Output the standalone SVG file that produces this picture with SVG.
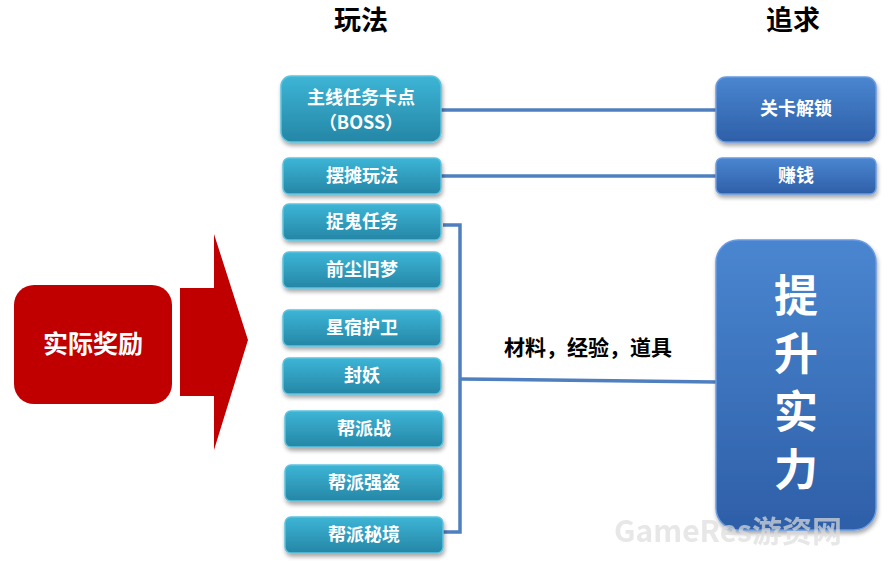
<svg xmlns="http://www.w3.org/2000/svg" width="894" height="563" viewBox="0 0 894 563">
<defs>
<linearGradient id="teal" x1="0" y1="0" x2="0" y2="1"><stop offset="0" stop-color="#3db5d6"/><stop offset="1" stop-color="#2586a6"/></linearGradient>
<linearGradient id="blue" x1="0" y1="0" x2="0" y2="1"><stop offset="0" stop-color="#4a86d0"/><stop offset="1" stop-color="#2e5fa8"/></linearGradient>
<filter id="sh" x="-10%" y="-10%" width="120%" height="130%"><feDropShadow dx="1" dy="3" stdDeviation="2" flood-color="#000" flood-opacity="0.35"/></filter>
</defs>
<style>
.t{fill:url(#teal);stroke:#5cc3df;stroke-width:1.5;filter:url(#sh)}
.b{fill:url(#blue);stroke:#6a9be0;stroke-width:1.5;filter:url(#sh)}
text{font-family:"Noto Sans CJK SC","Liberation Sans",sans-serif;font-weight:bold;text-anchor:middle}
.w{fill:#fff;font-size:18px}
.h{fill:#000;font-size:27px}
.c{fill:none;stroke:#4f7fbf;stroke-width:3.5}
</style>
<text class="h" x="361" y="30">玩法</text>
<text class="h" x="793" y="30">追求</text>
<g id="reward"><rect x="14" y="285" width="158" height="119" rx="20" fill="#c00000"/><text class="w" x="93" y="353" style="font-size:25px">实际奖励</text></g>
<g id="bigarrow"><polygon points="180,288 214,288 214,234 248,340 214,450 214,396 180,396" fill="#c00000"/></g>
<g id="connectors">
<line class="c" x1="441" y1="110" x2="716" y2="110"/>
<line class="c" x1="441" y1="176" x2="716" y2="176"/>
<polyline class="c" points="443,225 460,225 460,532 443,532"/>
<line class="c" x1="460" y1="379" x2="716" y2="382"/>
<text x="588" y="355" style="font-size:21px" fill="#000">材料，经验，道具</text>
</g>
<g id="n1"><rect class="t" x="281" y="76" width="160" height="66" rx="10"/><text class="w" x="361" y="104">主线任务卡点</text><text class="w" x="361" y="129">（BOSS）</text></g>
<g id="n2"><rect class="t" x="283" y="158" width="158" height="36" rx="6"/><text class="w" x="362" y="182">摆摊玩法</text></g>
<g id="n3"><rect class="t" x="283" y="204" width="158" height="36" rx="6"/><text class="w" x="362" y="228">捉鬼任务</text></g>
<g id="n4"><rect class="t" x="283" y="252" width="158" height="36" rx="6"/><text class="w" x="362" y="276">前尘旧梦</text></g>
<g id="n5"><rect class="t" x="283" y="310" width="158" height="36" rx="6"/><text class="w" x="362" y="334">星宿护卫</text></g>
<g id="n6"><rect class="t" x="283" y="358" width="158" height="36" rx="6"/><text class="w" x="362" y="382">封妖</text></g>
<g id="n7"><rect class="t" x="285" y="411" width="158" height="36" rx="6"/><text class="w" x="364" y="435">帮派战</text></g>
<g id="n8"><rect class="t" x="285" y="465" width="158" height="36" rx="6"/><text class="w" x="364" y="489">帮派强盗</text></g>
<g id="n9"><rect class="t" x="285" y="517" width="158" height="36" rx="6"/><text class="w" x="364" y="541">帮派秘境</text></g>
<g id="g1"><rect class="b" x="716" y="77" width="160" height="65" rx="10"/><text class="w" x="796" y="115">关卡解锁</text></g>
<g id="g2"><rect class="b" x="716" y="158" width="160" height="36" rx="6"/><text class="w" x="796" y="182">赚钱</text></g>
<g id="g3"><rect class="b" x="716" y="240" width="160" height="290" rx="22"/>
<text class="w" x="796" y="312" style="font-size:44px">提</text><text class="w" x="796" y="370" style="font-size:44px">升</text><text class="w" x="796" y="428" style="font-size:44px">实</text><text class="w" x="796" y="486" style="font-size:44px">力</text></g>
<text x="728" y="542" style="font-size:30px" fill="#dddddd" opacity="0.7">GameRes游资网</text>
</svg>
